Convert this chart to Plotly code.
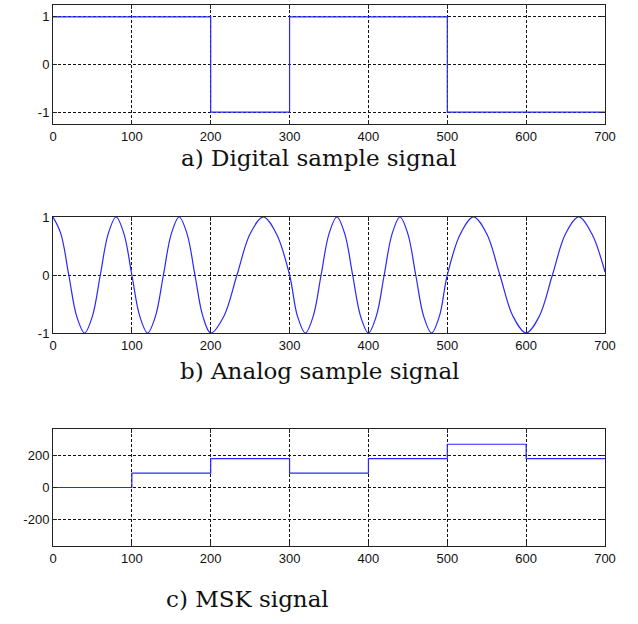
import plotly.graph_objects as go

# ---- data ----
bit_edges = [0, 100, 200, 300, 400, 500, 600, 700]
bits = [1, 1, -1, 1, 1, -1, -1]
msk_phase = [0, 90, 180, 90, 180, 270, 180]

analog_t = [0, 10, 20, 30, 40, 50, 60, 70, 80, 90, 100,
            110, 120, 130, 140, 150, 160, 170, 180, 190, 200,
            216.7, 233.3, 250, 266.7, 283.3, 300,
            310, 320, 330, 340, 350, 360, 370, 380, 390, 400,
            410, 420, 430, 440, 450, 460, 470, 480, 490, 500,
            516.7, 533.3, 550, 566.7, 583.3, 600,
            616.7, 633.3, 650, 666.7, 683.3, 700]
analog_v = [1, 0.71, 0, -0.71, -1, -0.71, 0, 0.71, 1, 0.71, 0,
            -0.71, -1, -0.71, 0, 0.71, 1, 0.71, 0, -0.71, -1,
            -0.71, 0, 0.71, 1, 0.71, 0,
            -0.71, -1, -0.71, 0, 0.71, 1, 0.71, 0, -0.71, -1,
            -0.71, 0, 0.71, 1, 0.71, 0, -0.71, -1, -0.71, 0,
            0.71, 1, 0.71, 0, -0.71, -1,
            -0.71, 0, 0.71, 1, 0.71, 0.05]

x_ticks = [0, 100, 200, 300, 400, 500, 600, 700]
x_labels = ["0", "100", "200", "300", "400", "500", "600", "700"]
y_ticks = [[-1, 0, 1], [-1, 0, 1], [-200, 0, 200]]
y_labels = [["-1", "0", "1"], ["-1", "0", "1"], ["-200", "0", "200"]]
titles = ["a) Digital sample signal", "b) Analog sample signal", "c) MSK signal"]

W, H = 638, 624
LINE = "#2828ff"

fig = go.Figure()
fig.add_trace(go.Scatter(x=bit_edges, y=bits + [bits[-1]], mode="lines",
                         line=dict(shape="hv", color=LINE, width=1.2),
                         xaxis="x", yaxis="y", showlegend=False))
fig.add_trace(go.Scatter(x=analog_t, y=analog_v, mode="lines",
                         line=dict(shape="spline", smoothing=1.0, color=LINE, width=1.2),
                         xaxis="x2", yaxis="y2", showlegend=False))
fig.add_trace(go.Scatter(x=bit_edges, y=msk_phase + [msk_phase[-1]], mode="lines",
                         line=dict(shape="hv", color=LINE, width=1.2),
                         xaxis="x3", yaxis="y3", showlegend=False))

xl, xr = 53 / W, 605 / W
panels = [(5, 124), (217, 333), (429, 546)]
yranges = [[-1.25, 1.25], [-1, 1], [-365, 365]]

tickfont = dict(family="Liberation Sans, Arial, sans-serif", size=13, color="#111")
common = dict(showline=True, linecolor="#222", linewidth=1, mirror="ticks",
              ticks="inside", ticklen=4, tickcolor="#222", automargin=False,
              showgrid=True, gridcolor="#111", griddash="3px,2px", gridwidth=1,
              zeroline=False, tickfont=tickfont)

layout = {}
for i, ((top, bot), yr, yt, yl) in enumerate(zip(panels, yranges, y_ticks, y_labels)):
    sx = "" if i == 0 else str(i + 1)
    layout["xaxis" + sx] = dict(domain=[xl, xr], range=[0, 700], tickvals=x_ticks,
                                ticktext=x_labels, anchor="y" + sx, **common)
    layout["yaxis" + sx] = dict(domain=[1 - bot / H, 1 - top / H], range=yr, tickvals=yt,
                                ticktext=yl, anchor="x" + sx, **common)

fig.update_layout(**layout)

title_pos = [(319, 158), (320, 371), (247, 599)]
for t, (cx, cy) in zip(titles, title_pos):
    fig.add_annotation(text=t, x=cx / W, y=1 - cy / H, xref="paper", yref="paper",
                       showarrow=False, xanchor="center", yanchor="middle",
                       font=dict(family="DejaVu Serif, serif", size=23, color="#111"))

fig.update_layout(width=W, height=H, margin=dict(l=0, r=0, t=0, b=0),
                  paper_bgcolor="white", plot_bgcolor="white")

fig.write_html("out.html")
